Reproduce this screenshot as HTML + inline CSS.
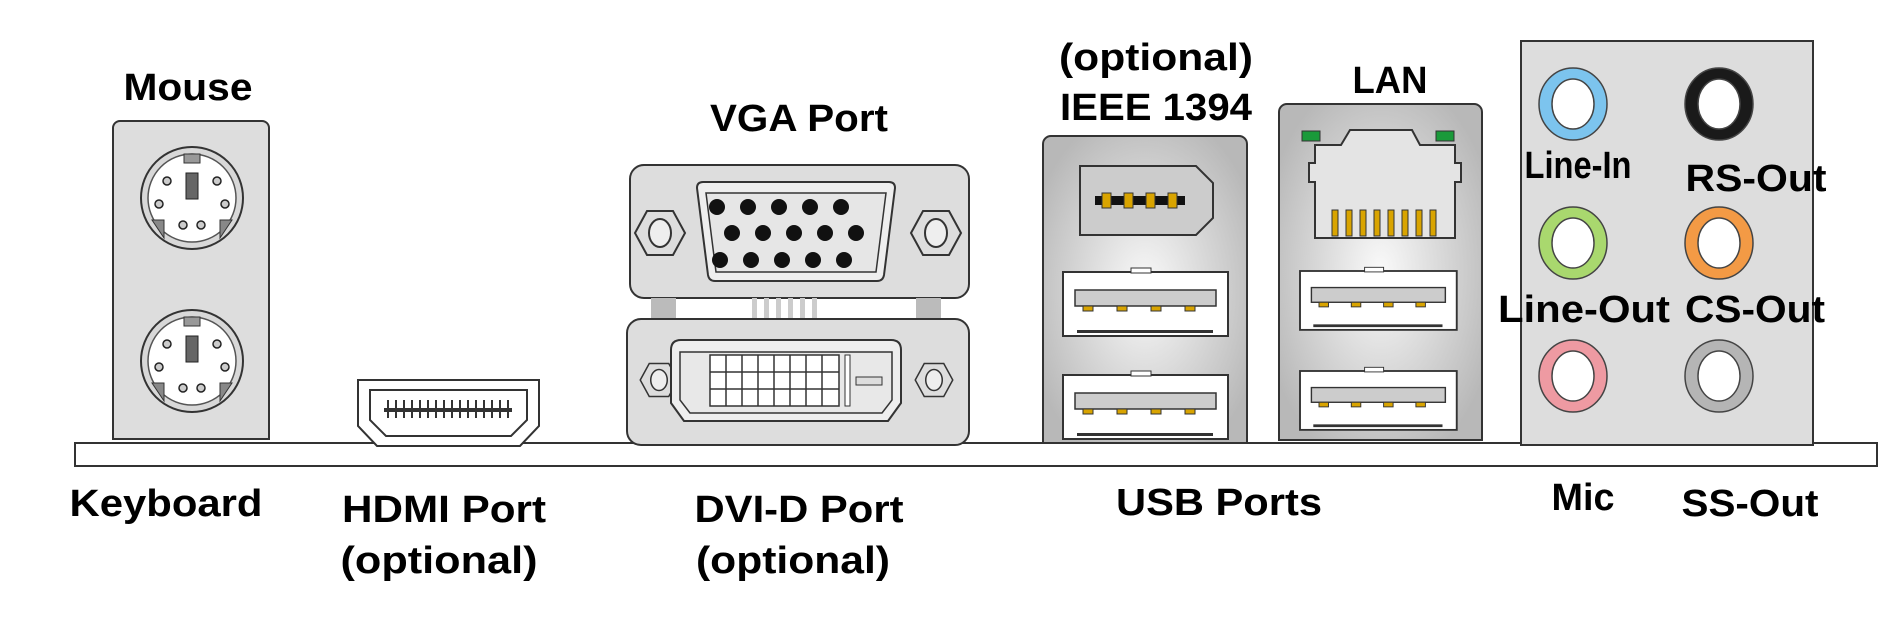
<!DOCTYPE html>
<html><head><meta charset="utf-8"><style>
html,body{margin:0;padding:0;background:#fff;}
svg{display:block;}
text{font-family:"Liberation Sans",Arial,sans-serif;font-weight:bold;fill:#000;}
</style></head><body>
<svg width="1902" height="637" viewBox="0 0 1902 637" xmlns="http://www.w3.org/2000/svg">
<defs>
<radialGradient id="g" cx="50%" cy="50%" r="60%"><stop offset="0" stop-color="#fafafa"/><stop offset="1" stop-color="#b8b8b8"/></radialGradient>
<g id="ps2">
<circle r="51" fill="#d8d8d8" stroke="#333" stroke-width="2"/>
<circle r="44" fill="#fff" stroke="#555" stroke-width="1.5"/>
<rect x="-8" y="-44" width="16" height="9" fill="#999" stroke="#333"/>
<rect x="-6" y="-25" width="12" height="26" fill="#666" stroke="#222"/>
<path d="M-40 22 L-28 22 L-28 40 Z M40 22 L28 22 L28 40 Z" fill="#888" stroke="#333"/>
<g fill="#ccc" stroke="#222" stroke-width="1.5"><circle cx="-25" cy="-17" r="4"/><circle cx="25" cy="-17" r="4"/><circle cx="-33" cy="6" r="4"/><circle cx="33" cy="6" r="4"/><circle cx="-9" cy="27" r="4"/><circle cx="9" cy="27" r="4"/></g>
</g>
<g id="usb">
<rect x="0" y="0" width="165" height="64" fill="#fff" stroke="#333" stroke-width="2"/>
<rect x="68" y="-4" width="20" height="5" fill="#fff" stroke="#333"/>
<rect x="12" y="18" width="141" height="16" fill="#ccc" stroke="#333" stroke-width="1.5"/>
<g fill="#d9a400" stroke="#333"><rect x="20" y="34" width="10" height="5"/><rect x="54" y="34" width="10" height="5"/><rect x="88" y="34" width="10" height="5"/><rect x="122" y="34" width="10" height="5"/></g>
<rect x="14" y="58" width="136" height="3" fill="#333"/>
</g>
<g id="hex"><path d="M-25 0 L-13 -22 L13 -22 L25 0 L13 22 L-13 22 Z" fill="#ddd" stroke="#333" stroke-width="2"/><ellipse rx="11" ry="14" fill="#eee" stroke="#333" stroke-width="2"/></g>
</defs>

<!-- base bar -->
<rect x="75" y="443" width="1802" height="23" fill="#fff" stroke="#333" stroke-width="2"/>

<!-- PS2 -->
<path d="M113 439 V128 a7 7 0 0 1 7 -7 H262 a7 7 0 0 1 7 7 V439 Z" fill="#ddd" stroke="#333" stroke-width="2"/>
<use href="#ps2" x="192" y="198"/>
<use href="#ps2" x="192" y="361"/>

<!-- HDMI -->
<path d="M358 380 H539 V426 L520 446 H377 L358 426 Z" fill="#fff" stroke="#333" stroke-width="2"/>
<path d="M370 390 H527 V420 L511 436 H386 L370 420 Z" fill="#fff" stroke="#333" stroke-width="2"/>
<rect x="384" y="408" width="128" height="4" fill="#333"/>
<g stroke="#333" stroke-width="2"><path d="M388 400V418 M396 400V418 M404 400V418 M412 400V418 M420 400V418 M428 400V418 M436 400V418 M444 400V418 M452 400V418 M460 400V418 M468 400V418 M476 400V418 M484 400V418 M492 400V418 M500 400V418 M508 400V418"/></g>

<!-- VGA -->
<rect x="630" y="165" width="339" height="133" rx="14" fill="#ddd" stroke="#333" stroke-width="2"/>
<use href="#hex" x="660" y="233"/><use href="#hex" x="936" y="233"/>
<path d="M697 188 Q697 182 703 182 H889 Q895 182 895 188 L884 275 Q883 281 877 281 H715 Q709 281 708 275 Z" fill="#eee" stroke="#333" stroke-width="2"/>
<path d="M706 193 H886 L876 272 H716 Z" fill="#e6e6e6" stroke="#333" stroke-width="1.5"/>
<g fill="#111">
<circle cx="717" cy="207" r="8"/><circle cx="748" cy="207" r="8"/><circle cx="779" cy="207" r="8"/><circle cx="810" cy="207" r="8"/><circle cx="841" cy="207" r="8"/>
<circle cx="732" cy="233" r="8"/><circle cx="763" cy="233" r="8"/><circle cx="794" cy="233" r="8"/><circle cx="825" cy="233" r="8"/><circle cx="856" cy="233" r="8"/>
<circle cx="720" cy="260" r="8"/><circle cx="751" cy="260" r="8"/><circle cx="782" cy="260" r="8"/><circle cx="813" cy="260" r="8"/><circle cx="844" cy="260" r="8"/>
</g>
<rect x="651" y="298" width="25" height="22" fill="#bbb"/><rect x="916" y="298" width="25" height="22" fill="#bbb"/>
<g fill="#ccc"><rect x="752" y="298" width="5" height="22"/><rect x="764" y="298" width="5" height="22"/><rect x="776" y="298" width="5" height="22"/><rect x="788" y="298" width="5" height="22"/><rect x="800" y="298" width="5" height="22"/><rect x="812" y="298" width="5" height="22"/></g>

<!-- DVI -->
<rect x="627" y="319" width="342" height="126" rx="14" fill="#ddd" stroke="#333" stroke-width="2"/>
<use href="#hex" x="659" y="380" transform="translate(659 380) scale(0.75) translate(-659 -380)"/>
<use href="#hex" x="934" y="380" transform="translate(934 380) scale(0.75) translate(-934 -380)"/>
<path d="M671 350 Q671 340 681 340 H891 Q901 340 901 350 V403 L888 421 H684 L671 403 Z" fill="#eee" stroke="#333" stroke-width="2"/>
<path d="M680 352 H892 V400 L882 413 H690 L680 400 Z" fill="#e8e8e8" stroke="#333" stroke-width="1.5"/>
<g fill="#fff" stroke="#333" stroke-width="1.5">
<rect x="710" y="355" width="129" height="51"/>
</g>
<path d="M726 355V406 M742 355V406 M758 355V406 M774 355V406 M790 355V406 M806 355V406 M822 355V406 M710 372H839 M710 389H839" stroke="#333" stroke-width="1.5"/>
<rect x="845" y="355" width="5" height="51" fill="#fff" stroke="#333"/>
<rect x="856" y="377" width="26" height="8" fill="#ddd" stroke="#333"/>

<!-- 1394 + USB panel -->
<path d="M1043 443 V144 a8 8 0 0 1 8 -8 H1239 a8 8 0 0 1 8 8 V443 Z" fill="url(#g)" stroke="#333" stroke-width="2"/>
<path d="M1080 166 H1196 L1213 183 V218 L1196 235 H1080 Z" fill="#ccc" stroke="#333" stroke-width="2"/>
<rect x="1095" y="196" width="90" height="9" fill="#111"/>
<g fill="#d9a400" stroke="#333"><rect x="1102" y="193" width="9" height="15"/><rect x="1124" y="193" width="9" height="15"/><rect x="1146" y="193" width="9" height="15"/><rect x="1168" y="193" width="9" height="15"/></g>
<use href="#usb" x="1063" y="272"/>
<use href="#usb" x="1063" y="375"/>

<!-- LAN panel -->
<path d="M1279 440 V112 a8 8 0 0 1 8 -8 H1474 a8 8 0 0 1 8 8 V440 Z" fill="url(#g)" stroke="#333" stroke-width="2"/>
<rect x="1302" y="131" width="18" height="10" fill="#1a9a3a" stroke="#333"/>
<rect x="1436" y="131" width="18" height="10" fill="#1a9a3a" stroke="#333"/>
<path d="M1315 238 V182 H1309 V163 H1315 V145 H1341 L1350 130 H1412 L1420 145 H1455 V163 H1461 V182 H1455 V238 Z" fill="#e4e4e4" stroke="#333" stroke-width="2"/>
<g fill="#d9a400" stroke="#333"><rect x="1332" y="210" width="6" height="26"/><rect x="1346" y="210" width="6" height="26"/><rect x="1360" y="210" width="6" height="26"/><rect x="1374" y="210" width="6" height="26"/><rect x="1388" y="210" width="6" height="26"/><rect x="1402" y="210" width="6" height="26"/><rect x="1416" y="210" width="6" height="26"/><rect x="1430" y="210" width="6" height="26"/></g>
<use href="#usb" x="1300" y="271" transform="translate(1300 271) scale(0.95 0.92) translate(-1300 -271)"/>
<use href="#usb" x="1300" y="371" transform="translate(1300 371) scale(0.95 0.92) translate(-1300 -371)"/>

<!-- Audio panel -->
<rect x="1521" y="41" width="292" height="404" fill="#ddd" stroke="#333" stroke-width="2"/>
<g stroke="#444" stroke-width="1.5">
<ellipse cx="1573" cy="104" rx="34" ry="36" fill="#7cc4ee"/><ellipse cx="1573" cy="104" rx="21" ry="25" fill="#fff"/>
<ellipse cx="1719" cy="104" rx="34" ry="36" fill="#1a1a1a"/><ellipse cx="1719" cy="104" rx="21" ry="25" fill="#fff"/>
<ellipse cx="1573" cy="243" rx="34" ry="36" fill="#a9d86e"/><ellipse cx="1573" cy="243" rx="21" ry="25" fill="#fff"/>
<ellipse cx="1719" cy="243" rx="34" ry="36" fill="#f39a45"/><ellipse cx="1719" cy="243" rx="21" ry="25" fill="#fff"/>
<ellipse cx="1573" cy="376" rx="34" ry="36" fill="#ee9aa2"/><ellipse cx="1573" cy="376" rx="21" ry="25" fill="#fff"/>
<ellipse cx="1719" cy="376" rx="34" ry="36" fill="#b5b5b5"/><ellipse cx="1719" cy="376" rx="21" ry="25" fill="#fff"/>
</g>

<!-- labels -->
<g font-size="38" text-anchor="middle" lengthAdjust="spacingAndGlyphs">
<text x="188" y="100" textLength="129" lengthAdjust="spacingAndGlyphs">Mouse</text>
<text x="799" y="131" textLength="178" lengthAdjust="spacingAndGlyphs">VGA Port</text>
<text x="1156" y="70" textLength="194" lengthAdjust="spacingAndGlyphs">(optional)</text>
<text x="1156" y="120" textLength="192" lengthAdjust="spacingAndGlyphs">IEEE 1394</text>
<text x="1390" y="93" textLength="75" lengthAdjust="spacingAndGlyphs">LAN</text>
<text x="1578" y="178" textLength="107" lengthAdjust="spacingAndGlyphs">Line-In</text>
<text x="1756" y="191" textLength="141" lengthAdjust="spacingAndGlyphs">RS-Out</text>
<text x="1584" y="322" textLength="172" lengthAdjust="spacingAndGlyphs">Line-Out</text>
<text x="1755" y="322" textLength="140" lengthAdjust="spacingAndGlyphs">CS-Out</text>
<text x="166" y="516" textLength="193" lengthAdjust="spacingAndGlyphs">Keyboard</text>
<text x="444" y="522" textLength="204" lengthAdjust="spacingAndGlyphs">HDMI Port</text>
<text x="439" y="573" textLength="197" lengthAdjust="spacingAndGlyphs">(optional)</text>
<text x="799" y="522" textLength="209" lengthAdjust="spacingAndGlyphs">DVI-D Port</text>
<text x="793" y="573" textLength="194" lengthAdjust="spacingAndGlyphs">(optional)</text>
<text x="1219" y="515" textLength="206" lengthAdjust="spacingAndGlyphs">USB Ports</text>
<text x="1583" y="510" textLength="63" lengthAdjust="spacingAndGlyphs">Mic</text>
<text x="1750" y="516" textLength="137" lengthAdjust="spacingAndGlyphs">SS-Out</text>
</g>
</svg>
</body></html>
